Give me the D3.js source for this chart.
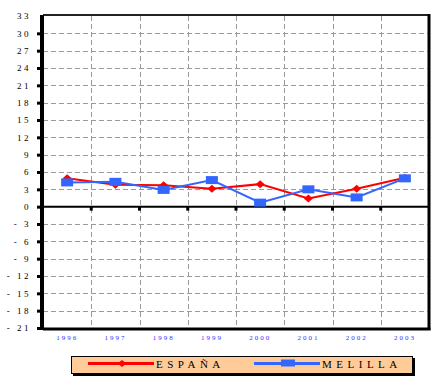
<!DOCTYPE html>
<html>
<head>
<meta charset="utf-8">
<script src="https://cdn.jsdelivr.net/npm/d3@7"></script>
<style>
  body { margin: 0; background: #fff; }
  text { font-family: "Liberation Serif", "Times New Roman", serif; }
</style>
</head>
<body>
<div id="chart"></div>
<script>
// data
var years = ["1996", "1997", "1998", "1999", "2000", "2001", "2002", "2003"];
var espana = [4.9, 3.8, 3.7, 3.1, 3.9, 1.4, 3.1, 5.0];
var melilla = [4.2, 4.3, 2.9, 4.6, 0.7, 3.0, 1.6, 4.9];
var yTicks = [33, 30, 27, 24, 21, 18, 15, 12, 9, 6, 3, 0, -3, -6, -9, -12, -15, -18, -21];

var W = 437, H = 381;
//NOTE: "top" is taken by window.top, so use plot* names
var plotLeft = 43, plotRight = 429, plotTop = 16, plotBottom = 328;

var svg = d3.select("#chart").append("svg")
  .attr("width", W)
  .attr("height", H);

var x = d3.scaleBand().domain(years).range([plotLeft, plotRight]);
var y = d3.scaleLinear().domain([-21, 33]).range([plotBottom, plotTop]);

//gridlines
var grid = svg.append("g").attr("class", "grid")
  .attr("stroke", "#9a9a9a")
  .attr("stroke-width", 1)
  .attr("stroke-dasharray", "5,3");

grid.selectAll("line.h")
  .data(yTicks.filter(function(d) { return d !== 0 && d !== 33 && d !== -21; }))
  .enter().append("line")
  .attr("class", "h")
  .attr("x1", plotLeft).attr("x2", plotRight)
  .attr("y1", function(d) { return Math.round(y(d)) + 0.5; })
  .attr("y2", function(d) { return Math.round(y(d)) + 0.5; });

grid.selectAll("line.v")
  .data(years.slice(1))
  .enter().append("line")
  .attr("class", "v")
  .attr("x1", function(d) { return Math.round(x(d)) + 0.5; })
  .attr("x2", function(d) { return Math.round(x(d)) + 0.5; })
  .attr("y1", plotTop).attr("y2", plotBottom);

//frame: top & right border
svg.append("line")
  .attr("x1", plotLeft).attr("x2", plotRight + 1)
  .attr("y1", plotTop - 1).attr("y2", plotTop - 1)
  .attr("stroke", "#222").attr("stroke-width", 2);
svg.append("line")
  .attr("x1", plotRight).attr("x2", plotRight)
  .attr("y1", plotTop - 2).attr("y2", plotBottom + 2)
  .attr("stroke", "#000").attr("stroke-width", 3);

//bottom border
svg.append("line")
  .attr("x1", plotLeft).attr("x2", plotRight + 1.5)
  .attr("y1", plotBottom + 1).attr("y2", plotBottom + 1)
  .attr("stroke", "#000").attr("stroke-width", 3);

//y axis
var yAxis = d3.axisLeft(y)
  .tickValues(yTicks)
  .tickSize(5)
  .tickPadding(6)
  .tickFormat(function(d) { return d < 0 ? "- " + (-d) : String(d); });

var ya = svg.append("g")
  .attr("transform", "translate(" + (plotLeft - 1) + ",0)")
  .call(yAxis);
ya.select(".domain").attr("stroke", "#000").attr("stroke-width", 4)
  .attr("d", "M0," + (plotTop - 1) + "V" + (plotBottom + 2));
ya.selectAll(".tick line").attr("stroke", "#000").attr("stroke-width", 3);
ya.selectAll(".tick").filter(function(d) { return d === 33; }).select("line").remove();
ya.selectAll(".tick text")
  .attr("font-family", "Liberation Serif")
  .attr("font-size", 9)
  .attr("letter-spacing", 2.5)
  .attr("fill", "#000");

//zero line with ticks
var za = svg.append("g").attr("transform", "translate(0," + y(0) + ")");
za.append("line")
  .attr("x1", plotLeft).attr("x2", plotRight)
  .attr("stroke", "#000").attr("stroke-width", 2);
za.selectAll("line.t")
  .data(years.slice(1))
  .enter().append("line")
  .attr("class", "t")
  .attr("x1", function(d) { return x(d); })
  .attr("x2", function(d) { return x(d); })
  .attr("y1", 0).attr("y2", 4)
  .attr("stroke", "#000").attr("stroke-width", 3);

//x labels
svg.append("g").selectAll("text")
  .data(years)
  .enter().append("text")
  .attr("x", function(d) { return x(d) + x.bandwidth() / 2; })
  .attr("y", 340)
  .attr("text-anchor", "middle")
  .attr("font-size", 7)
  .attr("letter-spacing", 2)
  .attr("fill", "#3333ff")
  .text(function(d) { return d; });

var line = d3.line()
  .x(function(d, i) { return x(years[i]) + x.bandwidth() / 2; })
  .y(function(d) { return y(d); });

//series
svg.append("path")
  .datum(espana)
  .attr("d", line)
  .attr("fill", "none")
  .attr("stroke", "#ff0000")
  .attr("stroke-width", 2);

svg.append("g").selectAll("path")
  .data(espana)
  .enter().append("path")
  .attr("d", "M0,-4L4.5,0L0,4L-4.5,0Z")
  .attr("transform", function(d, i) { return "translate(" + (x(years[i]) + x.bandwidth() / 2) + "," + y(d) + ")"; })
  .attr("fill", "#ff0000");

svg.append("path")
  .datum(melilla)
  .attr("d", line)
  .attr("fill", "none")
  .attr("stroke", "#3366ff")
  .attr("stroke-width", 2);

svg.append("g").selectAll("rect")
  .data(melilla)
  .enter().append("rect")
  .attr("x", function(d, i) { return x(years[i]) + x.bandwidth() / 2 - 6; })
  .attr("y", function(d) { return y(d) - 4; })
  .attr("width", 12)
  .attr("height", 8)
  .attr("fill", "#3366ff");

//legend
var lg = svg.append("g");
lg.append("rect")
  .attr("x", 73).attr("y", 358).attr("width", 342).attr("height", 18)
  .attr("fill", "#000");
lg.append("rect")
  .attr("x", 71.5).attr("y", 356.5).attr("width", 341).attr("height", 17)
  .attr("fill", "#ffcc99")
  .attr("stroke", "#000").attr("stroke-width", 1);

var legendData = [
  {label: "ESPAÑA", color: "#ff0000", x: 88, shape: "diamond"},
  {label: "MELILLA", color: "#3366ff", x: 254, shape: "square"}
];

legendData.forEach(function(d) {
  lg.append("line")
    .attr("x1", d.x).attr("x2", d.x + 66)
    .attr("y1", 363.5).attr("y2", 363.5)
    .attr("stroke", d.color).attr("stroke-width", 3);
  if (d.shape === "diamond") {
    lg.append("path")
      .attr("d", "M0,-3.5L4.5,0L0,3.5L-4.5,0Z")
      .attr("transform", "translate(" + (d.x + 34) + ",363.5)")
      .attr("fill", d.color);
  } else {
    lg.append("rect")
      .attr("x", d.x + 27).attr("y", 359.5).attr("width", 14).attr("height", 7)
      .attr("fill", d.color);
  }
  lg.append("text")
    .attr("x", d.x + 68)
    .attr("y", 367.5)
    .attr("font-size", 11)
    .attr("letter-spacing", 4.5)
    .attr("fill", "#000")
    .text(d.label);
});
</script>
</body>
</html>
